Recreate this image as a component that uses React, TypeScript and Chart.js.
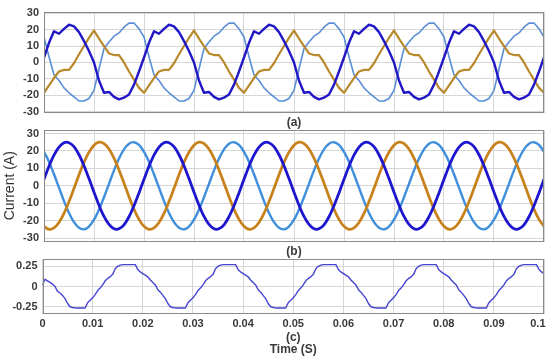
import React, { useEffect, useRef } from "react";
import { Chart, registerables } from "chart.js";

Chart.register(...registerables);

// ---------- data ----------
const stepAB = 0.001; // s between samples, panels (a) and (b)
const stepC = 0.0005; // s between samples, panel (c)

const timeTicks = [0, 0.01, 0.02, 0.03, 0.04, 0.05, 0.06, 0.07, 0.08, 0.09, 0.1];
const currentTicks = [-30, -20, -10, 0, 10, 20, 30];
const cTicks = [-0.25, 0, 0.25];

// (a) distorted three-phase currents (A)
const aPhaseDark = [
  3, 12, 19, 17.5, 20.5, 23, 22, 18.5, 13, 7, 0, -11, -18.5, -18, -21, -22.5, -21.5, -19.5, -13.5, -5.5,
  3, 12, 19, 17.5, 20.5, 23, 22, 18.5, 13, 7, 0, -11, -18.5, -18, -21, -22.5, -21.5, -19.5, -13.5, -5.5,
  3, 12, 19, 17.5, 20.5, 23, 22, 18.5, 13, 7, 0, -11, -18.5, -18, -21, -22.5, -21.5, -19.5, -13.5, -5.5,
  3, 12, 19, 17.5, 20.5, 23, 22, 18.5, 13, 7, 0, -11, -18.5, -18, -21, -22.5, -21.5, -19.5, -13.5, -5.5,
  3, 12, 19, 17.5, 20.5, 23, 22, 18.5, 13, 7, 0, -11, -18.5, -18, -21, -22.5, -21.5, -19.5, -13.5, -5.5,
  3,
];
const aPhaseOrange = [
  -18.5, -14, -9.5, -5.5, -4.5, -4.5, -0.5, 5, 10, 15, 19.5, 14.5, 10, 5.5, 4.5, 4.5, 0, -5.5, -10.5, -15.5,
  -18.5, -14, -9.5, -5.5, -4.5, -4.5, -0.5, 5, 10, 15, 19.5, 14.5, 10, 5.5, 4.5, 4.5, 0, -5.5, -10.5, -15.5,
  -18.5, -14, -9.5, -5.5, -4.5, -4.5, -0.5, 5, 10, 15, 19.5, 14.5, 10, 5.5, 4.5, 4.5, 0, -5.5, -10.5, -15.5,
  -18.5, -14, -9.5, -5.5, -4.5, -4.5, -0.5, 5, 10, 15, 19.5, 14.5, 10, 5.5, 4.5, 4.5, 0, -5.5, -10.5, -15.5,
  -18.5, -14, -9.5, -5.5, -4.5, -4.5, -0.5, 5, 10, 15, 19.5, 14.5, 10, 5.5, 4.5, 4.5, 0, -5.5, -10.5, -15.5,
  -18.5,
];
const aPhaseLight = [
  15.5, 3.5, -7.5, -11, -15.5, -18.5, -21, -23.5, -23.5, -22, -17, -4, 8.5, 12.5, 16, 18, 21.5, 24, 24, 20.5,
  15.5, 3.5, -7.5, -11, -15.5, -18.5, -21, -23.5, -23.5, -22, -17, -4, 8.5, 12.5, 16, 18, 21.5, 24, 24, 20.5,
  15.5, 3.5, -7.5, -11, -15.5, -18.5, -21, -23.5, -23.5, -22, -17, -4, 8.5, 12.5, 16, 18, 21.5, 24, 24, 20.5,
  15.5, 3.5, -7.5, -11, -15.5, -18.5, -21, -23.5, -23.5, -22, -17, -4, 8.5, 12.5, 16, 18, 21.5, 24, 24, 20.5,
  15.5, 3.5, -7.5, -11, -15.5, -18.5, -21, -23.5, -23.5, -22, -17, -4, 8.5, 12.5, 16, 18, 21.5, 24, 24, 20.5,
  15.5,
];

// (b) compensated three-phase currents (A)
const bPhaseDark = [
  3.7, 11.2, 17.6, 22.2, 24.7, 24.7, 22.4, 17.8, 11.5, 4.1, -3.7, -11.2, -17.6, -22.2, -24.7, -24.7, -22.4, -17.8, -11.5, -4.1,
  3.7, 11.2, 17.6, 22.2, 24.7, 24.7, 22.4, 17.8, 11.5, 4.1, -3.7, -11.2, -17.6, -22.2, -24.7, -24.7, -22.4, -17.8, -11.5, -4.1,
  3.7, 11.2, 17.6, 22.2, 24.7, 24.7, 22.4, 17.8, 11.5, 4.1, -3.7, -11.2, -17.6, -22.2, -24.7, -24.7, -22.4, -17.8, -11.5, -4.1,
  3.7, 11.2, 17.6, 22.2, 24.7, 24.7, 22.4, 17.8, 11.5, 4.1, -3.7, -11.2, -17.6, -22.2, -24.7, -24.7, -22.4, -17.8, -11.5, -4.1,
  3.7, 11.2, 17.6, 22.2, 24.7, 24.7, 22.4, 17.8, 11.5, 4.1, -3.7, -11.2, -17.6, -22.2, -24.7, -24.7, -22.4, -17.8, -11.5, -4.1,
  3.7,
];
const bPhaseOrange = [
  -23.3, -25, -24.2, -21.1, -15.9, -9.1, -1.5, 6.3, 13.5, 19.3, 23.3, 25, 24.2, 21.1, 15.9, 9.1, 1.5, -6.3, -13.5, -19.3,
  -23.3, -25, -24.2, -21.1, -15.9, -9.1, -1.5, 6.3, 13.5, 19.3, 23.3, 25, 24.2, 21.1, 15.9, 9.1, 1.5, -6.3, -13.5, -19.3,
  -23.3, -25, -24.2, -21.1, -15.9, -9.1, -1.5, 6.3, 13.5, 19.3, 23.3, 25, 24.2, 21.1, 15.9, 9.1, 1.5, -6.3, -13.5, -19.3,
  -23.3, -25, -24.2, -21.1, -15.9, -9.1, -1.5, 6.3, 13.5, 19.3, 23.3, 25, 24.2, 21.1, 15.9, 9.1, 1.5, -6.3, -13.5, -19.3,
  -23.3, -25, -24.2, -21.1, -15.9, -9.1, -1.5, 6.3, 13.5, 19.3, 23.3, 25, 24.2, 21.1, 15.9, 9.1, 1.5, -6.3, -13.5, -19.3,
  -23.3,
];
const bPhaseLight = [
  19.5, 13.8, 6.6, -1.1, -8.8, -15.6, -20.9, -24.1, -25, -23.4, -19.5, -13.8, -6.6, 1.1, 8.8, 15.6, 20.9, 24.1, 25, 23.4,
  19.5, 13.8, 6.6, -1.1, -8.8, -15.6, -20.9, -24.1, -25, -23.4, -19.5, -13.8, -6.6, 1.1, 8.8, 15.6, 20.9, 24.1, 25, 23.4,
  19.5, 13.8, 6.6, -1.1, -8.8, -15.6, -20.9, -24.1, -25, -23.4, -19.5, -13.8, -6.6, 1.1, 8.8, 15.6, 20.9, 24.1, 25, 23.4,
  19.5, 13.8, 6.6, -1.1, -8.8, -15.6, -20.9, -24.1, -25, -23.4, -19.5, -13.8, -6.6, 1.1, 8.8, 15.6, 20.9, 24.1, 25, 23.4,
  19.5, 13.8, 6.6, -1.1, -8.8, -15.6, -20.9, -24.1, -25, -23.4, -19.5, -13.8, -6.6, 1.1, 8.8, 15.6, 20.9, 24.1, 25, 23.4,
  19.5,
];

// (c) signal
const cSignal = [
  0.02, 0.09, 0.07, 0.05, 0.03, 0.0, -0.06, -0.08, -0.11, -0.15, -0.21, -0.25, -0.26, -0.265, -0.265, -0.265, -0.265, -0.265, -0.2, -0.17,
  -0.14, -0.1, -0.05, -0.02, 0.02, 0.07, 0.1, 0.12, 0.15, 0.22, 0.25, 0.265, 0.27, 0.27, 0.27, 0.27, 0.27, 0.27, 0.21, 0.18,
  0.16, 0.14, 0.12, 0.08, 0.05, 0.02, -0.04, -0.07, -0.11, -0.15, -0.21, -0.25, -0.26, -0.265, -0.265, -0.265, -0.265, -0.265, -0.2, -0.17,
  -0.14, -0.1, -0.05, -0.02, 0.02, 0.07, 0.1, 0.12, 0.15, 0.22, 0.25, 0.265, 0.27, 0.27, 0.27, 0.27, 0.27, 0.27, 0.21, 0.18,
  0.16, 0.14, 0.12, 0.08, 0.05, 0.02, -0.04, -0.07, -0.11, -0.15, -0.21, -0.25, -0.26, -0.265, -0.265, -0.265, -0.265, -0.265, -0.2, -0.17,
  -0.14, -0.1, -0.05, -0.02, 0.02, 0.07, 0.1, 0.12, 0.15, 0.22, 0.25, 0.265, 0.27, 0.27, 0.27, 0.27, 0.27, 0.27, 0.21, 0.18,
  0.16, 0.14, 0.12, 0.08, 0.05, 0.02, -0.04, -0.07, -0.11, -0.15, -0.21, -0.25, -0.26, -0.265, -0.265, -0.265, -0.265, -0.265, -0.2, -0.17,
  -0.14, -0.1, -0.05, -0.02, 0.02, 0.07, 0.1, 0.12, 0.15, 0.22, 0.25, 0.265, 0.27, 0.27, 0.27, 0.27, 0.27, 0.27, 0.21, 0.18,
  0.16, 0.14, 0.12, 0.08, 0.05, 0.02, -0.04, -0.07, -0.11, -0.15, -0.21, -0.25, -0.26, -0.265, -0.265, -0.265, -0.265, -0.265, -0.2, -0.17,
  -0.14, -0.1, -0.05, -0.02, 0.02, 0.07, 0.1, 0.12, 0.15, 0.22, 0.25, 0.265, 0.27, 0.27, 0.27, 0.27, 0.27, 0.27, 0.21, 0.18,
  0.16,
];

// ---------- styling ----------
const W = 550;
const H = 359;
const FONT = "'Liberation Sans', Arial, Helvetica, sans-serif";
const GRID = "#d6d6d6";
const BOX = "#8a8a8a";
const TEXT = "#3a3a3a";

type Series = { values: number[]; color: string; width: number };
type Panel = {
  series: Series[];
  step: number;
  tension: number;
  yMin: number;
  yMax: number;
  yTicks: number[];
  padTop: number;
  padBottom: number;
  xHeight: number;
  yWidth: number;
  showXTicks: boolean;
  xTitle: string | string[];
  xTitleLineHeight: number;
  yTitle?: string;
};

const boxPlugin = {
  id: "panelBox",
  afterDatasetsDraw(chart: any) {
    const { ctx, chartArea: a } = chart;
    ctx.save();
    ctx.strokeStyle = BOX;
    ctx.lineWidth = 1;
    const l = Math.round(a.left) + 0.5;
    const t = Math.round(a.top) + 0.5;
    const r = Math.round(a.right) - 0.5;
    const b = Math.round(a.bottom) - 0.5;
    ctx.strokeRect(l, t, r - l, b - t);
    ctx.restore();
  },
};

function makeChart(canvas: HTMLCanvasElement, p: Panel) {
  return new Chart(canvas, {
    type: "line",
    data: {
      datasets: p.series.map((s) => ({
        data: s.values.map((v, i) => ({ x: i * p.step, y: v })),
        borderColor: s.color,
        borderWidth: s.width,
        pointRadius: 0,
        tension: p.tension,
        fill: false,
        borderJoinStyle: "round" as const,
        borderCapStyle: "round" as const,
      })),
    },
    options: {
      animation: false,
      responsive: false,
      maintainAspectRatio: false,
      events: [],
      layout: { padding: { top: p.padTop, bottom: p.padBottom, left: 0, right: 6 } },
      plugins: {
        legend: { display: false },
        tooltip: { enabled: false },
        title: { display: false },
      },
      scales: {
        x: {
          type: "linear",
          min: 0,
          max: 0.1,
          afterBuildTicks: (s: any) => {
            s.ticks = timeTicks.map((v) => ({ value: v }));
          },
          afterFit: (s: any) => {
            s.height = p.xHeight;
            s.paddingLeft = 0;
            s.paddingRight = 0;
          },
          grid: { color: GRID, lineWidth: 1, drawTicks: false },
          border: { display: false },
          ticks: {
            display: p.showXTicks,
            autoSkip: false,
            maxRotation: 0,
            padding: 3,
            color: TEXT,
            font: { family: FONT, size: 11, weight: "bold" },
            callback: (v: any) => (v === 0.1 ? "0.1    " : String(v)),
          },
          title: {
            display: true,
            text: p.xTitle,
            padding: 0,
            color: TEXT,
            font: { family: FONT, size: 12, weight: "bold", lineHeight: p.xTitleLineHeight },
          },
        },
        y: {
          type: "linear",
          min: p.yMin,
          max: p.yMax,
          afterBuildTicks: (s: any) => {
            s.ticks = p.yTicks.map((v) => ({ value: v }));
          },
          afterFit: (s: any) => {
            s.width = p.yWidth;
          },
          grid: { color: GRID, lineWidth: 1, drawTicks: false },
          border: { display: false },
          ticks: {
            padding: 5,
            color: TEXT,
            font: { family: FONT, size: 11, weight: "bold" },
            callback: (v: any) => String(v),
          },
          title: {
            display: !!p.yTitle,
            text: p.yTitle || "",
            padding: { top: 2, bottom: 0 },
            color: "#333333",
            font: { family: FONT, size: 14 },
          },
        },
      },
    },
    plugins: [boxPlugin],
  } as any);
}

const panels: Panel[] = [
  {
    series: [
      { values: aPhaseDark, color: "#2117c4", width: 2.4 },
      { values: aPhaseOrange, color: "#b98a2c", width: 2.2 },
      { values: aPhaseLight, color: "#5a8ed6", width: 1.6 },
    ],
    step: stepAB,
    tension: 0,
    yMin: -31,
    yMax: 31,
    yTicks: currentTicks,
    padTop: 7,
    padBottom: 228.8,
    xHeight: 16.9,
    yWidth: 44,
    showXTicks: false,
    xTitle: "(a)",
    xTitleLineHeight: 1.2,
  },
  {
    series: [
      { values: bPhaseDark, color: "#1e16cc", width: 2.8 },
      { values: bPhaseOrange, color: "#c8821c", width: 2.8 },
      { values: bPhaseLight, color: "#3f8fdc", width: 2.4 },
    ],
    step: stepAB,
    tension: 0.35,
    yMin: -32,
    yMax: 32,
    yTicks: currentTicks,
    padTop: 130,
    padBottom: 99.8,
    xHeight: 17.7,
    yWidth: 44,
    showXTicks: false,
    xTitle: "(b)",
    xTitleLineHeight: 1.2,
    yTitle: "Current (A)",
  },
  {
    series: [{ values: cSignal, color: "#4444d0", width: 1.4 }],
    step: stepC,
    tension: 0,
    yMin: -0.34,
    yMax: 0.34,
    yTicks: cTicks,
    padTop: 259,
    padBottom: 3,
    xHeight: 42,
    yWidth: 42.5,
    showXTicks: true,
    xTitle: ["(c)", "Time (S)"],
    xTitleLineHeight: 1.0,
  },
];

export default function App() {
  const refA = useRef<HTMLCanvasElement>(null);
  const refB = useRef<HTMLCanvasElement>(null);
  const refC = useRef<HTMLCanvasElement>(null);

  useEffect(() => {
    const canvases = [refA.current, refB.current, refC.current];
    const charts = canvases.map((c, i) => makeChart(c as HTMLCanvasElement, panels[i]));
    return () => charts.forEach((ch) => ch.destroy());
  }, []);

  const style: React.CSSProperties = {
    position: "absolute",
    left: 0,
    top: 0,
    width: W,
    height: H,
  };

  return (
    <div style={{ position: "absolute", left: 0, top: 0, width: W, height: H, background: "#fff" }}>
      <canvas ref={refA} width={W} height={H} style={style} />
      <canvas ref={refB} width={W} height={H} style={style} />
      <canvas ref={refC} width={W} height={H} style={style} />
    </div>
  );
}
